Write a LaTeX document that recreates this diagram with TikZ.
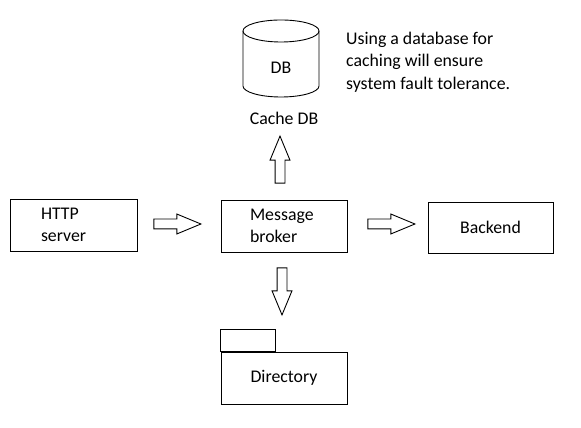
\documentclass[tikz,border=0pt]{standalone}
\usepackage{fontspec}
\setmainfont{Carlito}
\usetikzlibrary{calc}
\usetikzlibrary{shapes.arrows}

\begin{document}
\begin{tikzpicture}[x=1pt,y=1pt,
  every node/.style={font=\fontsize{17.8}{22.5}\selectfont},
  box/.style={draw,line width=0.9pt,minimum width=126pt,minimum height=52pt,inner sep=0pt},
  fat/.style={draw,line width=0.9pt,single arrow,minimum height=47pt,inner xsep=0pt,inner ysep=4.5pt,
    single arrow head extend=5pt,single arrow tip angle=45,anchor=tail}]

\useasboundingbox (0,0) rectangle (581,428);

\node[box,minimum width=127pt,text width=65pt,align=left] (http) at (73.5,203) {HTTP\\server};
\node[box,text width=68pt,align=left] (broker) at (284,202) {Message\\broker};
\node[box,minimum width=125pt,minimum height=51pt] (backend) at (490.5,200.5) {Backend};
\node[box] (dir) at (284,50) {Directory};
\draw[line width=0.9pt] (dir.north west) rectangle ++(55,22);

% cache database
\draw[line width=0.9pt] (243,397) -- (243,342) arc[start angle=180,end angle=360,x radius=38,y radius=11] -- (319,397);
\draw[line width=0.9pt] (281,397) ellipse [x radius=38,y radius=11];
\node (db) at (281,360.5) {DB};
\node (cache) at (284,310) {Cache DB};
\node[anchor=west,align=left,inner sep=0pt] (note) at (346,366) {Using a database for\\caching will ensure\\system fault tolerance.};

\node[fat] (a1) at ($(http.east)+(16,1)$) {};
\node[fat] (a2) at ($(broker.east)+(20,2)$) {};
\node[fat,rotate=90] (a3) at ($(broker.north)+(-4,16)$) {};
\node[fat,rotate=-90] (a4) at ($(broker.south)+(-2,-15)$) {};

\end{tikzpicture}
\end{document}
